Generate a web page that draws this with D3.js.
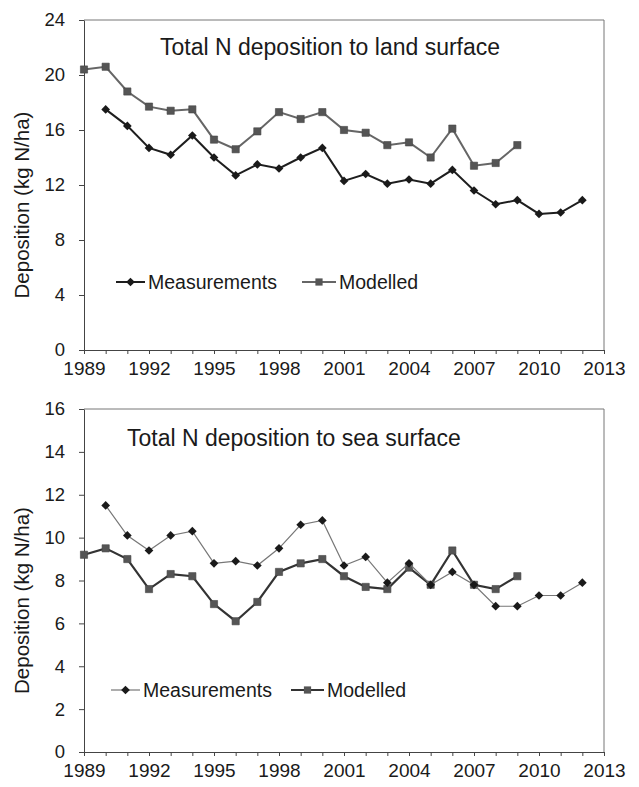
<!DOCTYPE html>
<html>
<head>
<meta charset="utf-8">
<script src="https://cdn.jsdelivr.net/npm/d3@7"></script>
<style>
    body { margin: 0; background: #fff; }
    svg { display: block; font-family: "Liberation Sans", Arial, sans-serif; }
</style>
</head>
<body>
<svg id="chart" width="639" height="787"></svg>
<script>
// years shown on the x axis
var xTickLabels = [1989, 1992, 1995, 1998, 2001, 2004, 2007, 2010, 2013];
var measuredYears = d3.range(1990, 2013);   // 1990 .. 2012
var modelledYears = d3.range(1989, 2010);   // 1989 .. 2009

// total N deposition to land surface (kg N/ha)
var landMeasured = [17.5, 16.3, 14.7, 14.2, 15.6, 14.0, 12.7, 13.5, 13.2, 14.0, 14.7, 12.3,
                    12.8, 12.1, 12.4, 12.1, 13.1, 11.6, 10.6, 10.9, 9.9, 10.0, 10.9];
var landModelled = [20.4, 20.6, 18.8, 17.7, 17.4, 17.5, 15.3, 14.6, 15.9, 17.3, 16.8, 17.3,
                    16.0, 15.8, 14.9, 15.1, 14.0, 16.1, 13.4, 13.6, 14.9];
var landYTicks = [0, 4, 8, 12, 16, 20, 24];

// total N deposition to sea surface (kg N/ha)
var seaMeasured = [11.5, 10.1, 9.4, 10.1, 10.3, 8.8, 8.9, 8.7, 9.5, 10.6, 10.8, 8.7,
                   9.1, 7.9, 8.8, 7.8, 8.4, 7.8, 6.8, 6.8, 7.3, 7.3, 7.9];
var seaModelled = [9.2, 9.5, 9.0, 7.6, 8.3, 8.2, 6.9, 6.1, 7.0, 8.4, 8.8, 9.0,
                   8.2, 7.7, 7.6, 8.6, 7.8, 9.4, 7.8, 7.6, 8.2];
var seaYTicks = [0, 2, 4, 6, 8, 10, 12, 14, 16];

var seriesNames = ['Measurements', 'Modelled'];

var svg = d3.select('#chart');

function zip(years, values) {
    return years.map(function(y, i) { return {year: y, value: values[i]}; });
}

function panel(opt) {

    var left = 84,
        right = 604;

    var x = d3.scaleLinear().domain([1989, 2013]).range([left, right]);
    var y = d3.scaleLinear().domain([0, d3.max(opt.yTicks)]).range([opt.bottom, opt.top]);

    var g = svg.append('g');

    // plot frame (top and right sides)
    g.append('path')
        .attr('d', 'M' + left + ',' + opt.top + 'H' + right + 'V' + opt.bottom)
        .attr('fill', 'none')
        .attr('stroke', '#777')
        .attr('stroke-width', 1);

    var xAxis = d3.axisBottom(x)
        .tickValues(d3.range(1989, 2014))
        .tickSize(4)
        .tickPadding(8)
        .tickSizeOuter(0)
        .tickFormat(function(d) { return xTickLabels.indexOf(d) >= 0 ? d : ''; });

    var yAxis = d3.axisLeft(y)
        .tickValues(opt.yTicks)
        .tickSize(5)
        .tickPadding(14)
        .tickSizeOuter(0);

    var gx = g.append('g')
        .attr('transform', 'translate(0,' + opt.bottom + ')')
        .call(xAxis);
    var gy = g.append('g')
        .attr('transform', 'translate(' + left + ',0)')
        .call(yAxis);

    [gx, gy].forEach(function(a) {
        a.selectAll('path, line').attr('stroke', '#444');
        a.selectAll('text')
            .attr('fill', '#1a1a1a')
            .attr('font-family', '"Liberation Sans", Arial, sans-serif');
    });
    gx.selectAll('text').attr('font-size', 19);
    gy.selectAll('text').attr('font-size', 18.5);

    // axis title
    g.append('text')
        .attr('transform', 'translate(29,' + ((opt.top + opt.bottom) / 2 + 20) + ') rotate(-90)')
        .attr('text-anchor', 'middle')
        .attr('font-size', 20.5)
        .attr('fill', '#1a1a1a')
        .text('Deposition (kg N/ha)');

    // chart title
    g.append('text')
        .attr('x', opt.titleX)
        .attr('y', opt.titleY)
        .attr('dy', '0.35em')
        .attr('font-size', 23)
        .attr('fill', '#1a1a1a')
        .text(opt.title);

    var line = d3.line()
        .x(function(d) { return x(d.year); })
        .y(function(d) { return y(d.value); });

    var diamond = d3.symbol().type(d3.symbolSquare).size(38);
    var square = d3.symbol().type(d3.symbolSquare).size(52);

    var measured = zip(measuredYears, opt.measured),
        modelled = zip(modelledYears, opt.modelled);

    function drawModelled() {
        g.append('path')
            .datum(modelled)
            .attr('d', line)
            .attr('fill', 'none')
            .attr('stroke', opt.modelledStroke)
            .attr('stroke-width', opt.modelledWidth);
        g.selectAll('.sq')
            .data(modelled).enter()
            .append('path').attr('class', 'sq')
            .attr('d', square)
            .attr('transform', function(d) { return 'translate(' + x(d.year) + ',' + y(d.value) + ')'; })
            .attr('fill', '#555')
            .attr('stroke', '#444')
            .attr('stroke-width', 0.6);
    }

    function drawMeasured() {
        g.append('path')
            .datum(measured)
            .attr('d', line)
            .attr('fill', 'none')
            .attr('stroke', opt.measuredStroke)
            .attr('stroke-width', opt.measuredWidth);
        g.selectAll('.dm')
            .data(measured).enter()
            .append('path').attr('class', 'dm')
            .attr('d', diamond)
            .attr('transform', function(d) { return 'translate(' + x(d.year) + ',' + y(d.value) + ') rotate(45)'; })
            .attr('fill', '#1a1a1a');
    }

    drawModelled();
    drawMeasured();

    // legend
    var lg = g.append('g').attr('transform', 'translate(0,' + opt.legendY + ')');
    var entries = [
        {name: seriesNames[0], x0: opt.legend[0][0], x1: opt.legend[0][1], sym: diamond, rot: 45,
         fill: '#1a1a1a', stroke: opt.measuredStroke, w: opt.measuredWidth},
        {name: seriesNames[1], x0: opt.legend[1][0], x1: opt.legend[1][1], sym: square, rot: 0,
         fill: '#555', stroke: opt.modelledStroke, w: opt.modelledWidth}
    ];
    var entry = lg.selectAll('g')
        .data(entries).enter()
        .append('g');
    entry.append('line')
        .attr('x1', function(d) { return d.x0; })
        .attr('x2', function(d) { return d.x1; })
        .attr('stroke', function(d) { return d.stroke; })
        .attr('stroke-width', function(d) { return d.w; });
    entry.append('path')
        .attr('d', function(d) { return d.sym(); })
        .attr('transform', function(d) { return 'translate(' + (d.x0 + d.x1) / 2 + ',0) rotate(' + d.rot + ')'; })
        .attr('fill', function(d) { return d.fill; });
    entry.append('text')
        .attr('x', function(d) { return d.x1 + 3; })
        .attr('dy', '0.35em')
        .attr('font-size', 19.5)
        .attr('fill', '#1a1a1a')
        .text(function(d) { return d.name; });
}

panel({
    top: 20, bottom: 350,
    yTicks: landYTicks,
    measured: landMeasured, modelled: landModelled,
    title: 'Total N deposition to land surface', titleX: 160, titleY: 47,
    measuredStroke: '#1e1e1e', measuredWidth: 2,
    modelledStroke: '#666', modelledWidth: 2,
    legendY: 282, legend: [[116, 145], [302, 336]]
});

panel({
    top: 409, bottom: 752,
    yTicks: seaYTicks,
    measured: seaMeasured, modelled: seaModelled,
    title: 'Total N deposition to sea surface', titleX: 127, titleY: 438,
    measuredStroke: '#777', measuredWidth: 1.2,
    modelledStroke: '#333', modelledWidth: 2.2,
    legendY: 690, legend: [[111, 140], [291, 324]]
});
</script>
</body>
</html>
